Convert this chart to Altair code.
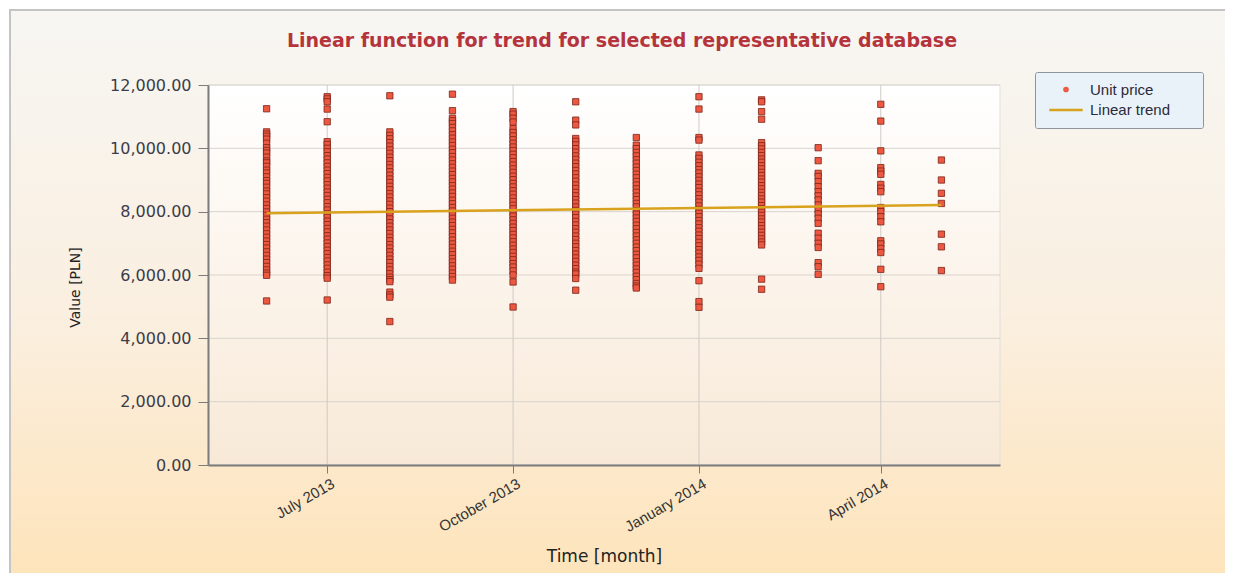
import altair as alt
import pandas as pd

# ---------------- data ----------------
month_dates = ["2013-06-01", "2013-07-01", "2013-08-01", "2013-09-01",
               "2013-10-01", "2013-11-01", "2013-12-01", "2014-01-01",
               "2014-02-01", "2014-03-01", "2014-04-01", "2014-05-01"]

jun13 = [11250, 10520, 10450, 10380, 10290, 10160, 10020, 9930, 9850, 9720, 9600, 9540,
         9430, 9310, 9220, 9100, 8980, 8890, 8770, 8650, 8560, 8440, 8330, 8210, 8100,
         7990, 7880, 7760, 7650, 7540, 7420, 7300, 7190, 7070, 6960, 6850, 6730, 6620,
         6500, 6390, 6270, 6160, 6060, 5990, 5180]
jul13 = [11630, 11560, 11470, 11240, 10840, 10210, 10120, 10000, 9890, 9770, 9660, 9540,
         9430, 9310, 9200, 9080, 8970, 8850, 8740, 8620, 8510, 8390, 8280, 8160, 8050,
         7930, 7820, 7700, 7590, 7470, 7360, 7240, 7130, 7010, 6900, 6780, 6670, 6550,
         6440, 6320, 6210, 6090, 5980, 5900, 5210]
aug13 = [11660, 10520, 10410, 10300, 10180, 10070, 9950, 9840, 9720, 9610, 9490, 9380,
         9260, 9150, 9030, 8920, 8800, 8690, 8570, 8460, 8340, 8230, 8110, 8000, 7880,
         7770, 7650, 7540, 7420, 7310, 7190, 7080, 6960, 6850, 6730, 6620, 6500, 6390,
         6270, 6160, 6040, 5930, 5850, 5790, 5460, 5370, 5300, 4530]
sep13 = [11710, 11190, 10950, 10870, 10780, 10660, 10550, 10430, 10320, 10200, 10090,
         9970, 9860, 9740, 9630, 9510, 9400, 9280, 9170, 9050, 8940, 8820, 8710, 8590,
         8480, 8360, 8250, 8130, 8020, 7900, 7790, 7670, 7560, 7440, 7330, 7210, 7100,
         6980, 6870, 6750, 6640, 6520, 6410, 6290, 6180, 6060, 5950, 5840]
oct13 = [11160, 11080, 10950, 10830, 10620, 10500, 10390, 10270, 10160, 10040, 9930,
         9810, 9700, 9580, 9470, 9350, 9240, 9120, 9010, 8890, 8780, 8660, 8550, 8430,
         8320, 8200, 8090, 7970, 7860, 7740, 7630, 7510, 7400, 7280, 7170, 7050, 6940,
         6820, 6710, 6590, 6480, 6360, 6250, 6130, 6000, 5780, 4990]
nov13 = [11470, 10890, 10740, 10310, 10220, 10110, 9990, 9880, 9760, 9650, 9530, 9420,
         9300, 9190, 9070, 8960, 8840, 8730, 8610, 8500, 8380, 8270, 8150, 8040, 7920,
         7810, 7690, 7580, 7460, 7350, 7230, 7120, 7000, 6890, 6770, 6660, 6540, 6430,
         6310, 6200, 6090, 6030, 5890, 5520]
dec13 = [10340, 10100, 9990, 9870, 9760, 9640, 9530, 9410, 9300, 9180, 9070, 8950,
         8840, 8720, 8610, 8490, 8380, 8260, 8150, 8030, 7920, 7800, 7690, 7570, 7460,
         7340, 7230, 7110, 7000, 6880, 6770, 6650, 6540, 6420, 6310, 6190, 6080, 5960,
         5850, 5730, 5650, 5590]
jan14 = [11630, 11240, 10340, 10260, 9790, 9680, 9560, 9450, 9330, 9220, 9100, 8990,
         8870, 8760, 8640, 8530, 8410, 8300, 8180, 8070, 7950, 7840, 7720, 7610, 7490,
         7380, 7260, 7150, 7030, 6920, 6800, 6690, 6570, 6460, 6340, 6210, 5820, 5160,
         4980]
feb14 = [11530, 11470, 11160, 10920, 10180, 10080, 9980, 9870, 9770, 9660, 9560, 9450,
         9350, 9240, 9140, 9030, 8930, 8820, 8720, 8610, 8510, 8400, 8300, 8190, 8090,
         7980, 7880, 7770, 7670, 7560, 7460, 7350, 7250, 7140, 7040, 6950, 5870, 5550]
mar14 = [10020, 9610, 9210, 9110, 8950, 8790, 8630, 8500, 8370, 8210, 8050, 7930, 7790,
         7630, 7320, 7160, 7000, 6870, 6390, 6260, 6020]
apr14 = [11390, 10860, 9920, 9390, 9280, 9180, 8860, 8740, 8630, 8130, 8000, 7840,
         7680, 7080, 6980, 6840, 6710, 6180, 5630]
may14 = [9630, 9000, 8580, 8260, 7290, 6890, 6140]

monthly_prices = [jun13, jul13, aug13, sep13, oct13, nov13, dec13,
                  jan14, feb14, mar14, apr14, may14]

trend_dates = ["2013-06-01", "2014-05-01"]
trend_values = [7950, 8210]

series_names = ["Unit price", "Linear trend"]
y_ticks = [0, 2000, 4000, 6000, 8000, 10000, 12000]
x_tick_dates = [(2013, 7), (2013, 10), (2014, 1), (2014, 4)]

chart_title = "Linear function for trend for selected representative database"
x_title = "Time [month]"
y_title = "Value [PLN]"

# ---------------- tables ----------------
rows = []
for d, vals in zip(month_dates, monthly_prices):
    for v in vals:
        rows.append({"month": d + "T00:00:00", "value": v})
points_df = pd.DataFrame(rows)
trend_df = pd.DataFrame({"month": [d + "T00:00:00" for d in trend_dates],
                         "value": trend_values})
legend_df = pd.DataFrame({"series": series_names})
ygrid_df = pd.DataFrame({"value": y_ticks})
xgrid_df = pd.DataFrame({"month": [f"{y}-{m:02d}-01T00:00:00" for y, m in x_tick_dates]})
one = pd.DataFrame({"a": [0]})

W, H = 792, 380
POINT_FILL = "#ee5840"
POINT_STROKE = "#7a2519"
TREND = "#d9a21c"
GRID = "#d8d4cf"
AXIS = "#7c7c7c"

x_scale = alt.Scale(domain=[alt.DateTime(year=2013, month=5, date=3),
                            alt.DateTime(year=2014, month=5, date=30)])
y_scale = alt.Scale(domain=[0, 12000], nice=False)

x_axis = alt.Axis(
    values=[alt.DateTime(year=y, month=m, date=1) for y, m in x_tick_dates],
    format="%B %Y", labelAngle=-30, labelAlign="right", labelBaseline="top",
    labelFont="Liberation Sans", labelFontSize=15, labelColor="#333333",
    labelPadding=3, labelOffset=2, tickSize=8, tickColor=AXIS, tickWidth=1,
    domainColor=AXIS, domainWidth=2, grid=False,
    title=x_title, titleFont="DejaVu Sans", titleFontSize=17, titleFontWeight="normal",
    titleColor="#222222", titleY=96, titleBaseline="alphabetic", zindex=1)

y_axis = alt.Axis(
    values=y_ticks, format=",.2f",
    labelFont="DejaVu Sans", labelFontSize=16, labelColor="#3c3c4a", labelPadding=7,
    tickSize=10, tickColor=AXIS, tickWidth=1, domainColor=AXIS, domainWidth=2, grid=False,
    title=y_title, titleFont="DejaVu Sans", titleFontSize=14, titleFontWeight="normal",
    titleColor="#222222", titleX=-126, titleY=202, titleAngle=-90, titleAlign="center",
    titleBaseline="bottom", zindex=1)

legend = alt.Legend(
    title=None, orient="none", legendX=827, legendY=-13,
    fillColor="#eaf2f9", strokeColor="#8d949c", cornerRadius=2, padding=10,
    labelFont="Liberation Sans", labelFontSize=15, labelColor="#2a2a38",
    symbolOffset=11, labelOffset=14, rowPadding=2, symbolStrokeWidth=2.5,
    labelExpr="datum.label + '" + "\u2800" * 2 + "'")

outer_bg = alt.Chart(one).mark_rect(
    fill=alt.LinearGradient(gradient="linear", x1=0, x2=0, y1=0, y2=1, stops=[
        alt.GradientStop(color="#f7f6f3", offset=0),
        alt.GradientStop(color="#faefe0", offset=0.5),
        alt.GradientStop(color="#fee2b5", offset=1)]),
    stroke="#c4c4c4", strokeWidth=2).encode(
    x=alt.value(-198), x2=alt.value(1040), y=alt.value(-75), y2=alt.value(530))

plot_bg = alt.Chart(one).mark_rect(
    fill=alt.LinearGradient(gradient="linear", x1=0, x2=0, y1=0, y2=1, stops=[
        alt.GradientStop(color="#ffffff", offset=0),
        alt.GradientStop(color="#f8e9d7", offset=1)]),
    stroke="#e2dfdb", strokeWidth=1).encode(
    x=alt.value(0), x2=alt.value(W), y=alt.value(0), y2=alt.value(H))

ygrid = alt.Chart(ygrid_df).mark_rule(color=GRID, strokeWidth=1).encode(
    y=alt.Y("value:Q", scale=y_scale, axis=y_axis))

xgrid = alt.Chart(xgrid_df).mark_rule(color="#cfcac5", strokeWidth=1).encode(
    x=alt.X("month:T", scale=x_scale, axis=x_axis))

points = alt.Chart(points_df).mark_point(
    shape="square", filled=True, size=40, opacity=1, fill=POINT_FILL,
    stroke=POINT_STROKE, strokeWidth=0.8).encode(
    x=alt.X("month:T", scale=x_scale, axis=x_axis),
    y=alt.Y("value:Q", scale=y_scale, axis=y_axis))

trend = alt.Chart(trend_df).mark_line(strokeWidth=2.5, color=TREND).encode(
    x=alt.X("month:T", scale=x_scale, axis=x_axis),
    y=alt.Y("value:Q", scale=y_scale, axis=y_axis))

# legend-only layer (marks placed outside the visible canvas)
legend_layer = alt.Chart(legend_df).mark_point(filled=False, opacity=1, strokeWidth=2.5).encode(
    x=alt.value(-2000), y=alt.value(-2000),
    color=alt.Color("series:N", scale=alt.Scale(domain=series_names, range=[POINT_FILL, TREND]),
                    legend=legend),
    shape=alt.Shape("series:N", scale=alt.Scale(domain=series_names,
                                                range=["circle", "M-2,0L2,0"]),
                    legend=legend),
    size=alt.Size("series:N", scale=alt.Scale(domain=series_names, range=[10, 280]),
                  legend=legend))

title_mark = alt.Chart(one).mark_text(
    font="DejaVu Sans", fontWeight="bold", fontSize=19, color="#b5343c",
    align="center", baseline="alphabetic").encode(
    x=alt.value(414), y=alt.value(-38), text=alt.value(chart_title))

chart = alt.layer(outer_bg, plot_bg, ygrid, xgrid, points, trend, legend_layer,
                  title_mark).properties(
    width=W, height=H,
    padding={"left": 200, "top": 77, "right": 225, "bottom": 108},
    autosize=alt.AutoSizeParams(type="none"),
).configure_view(strokeWidth=0)

chart.save("out.html", embed_options={"renderer": "svg", "actions": False})
